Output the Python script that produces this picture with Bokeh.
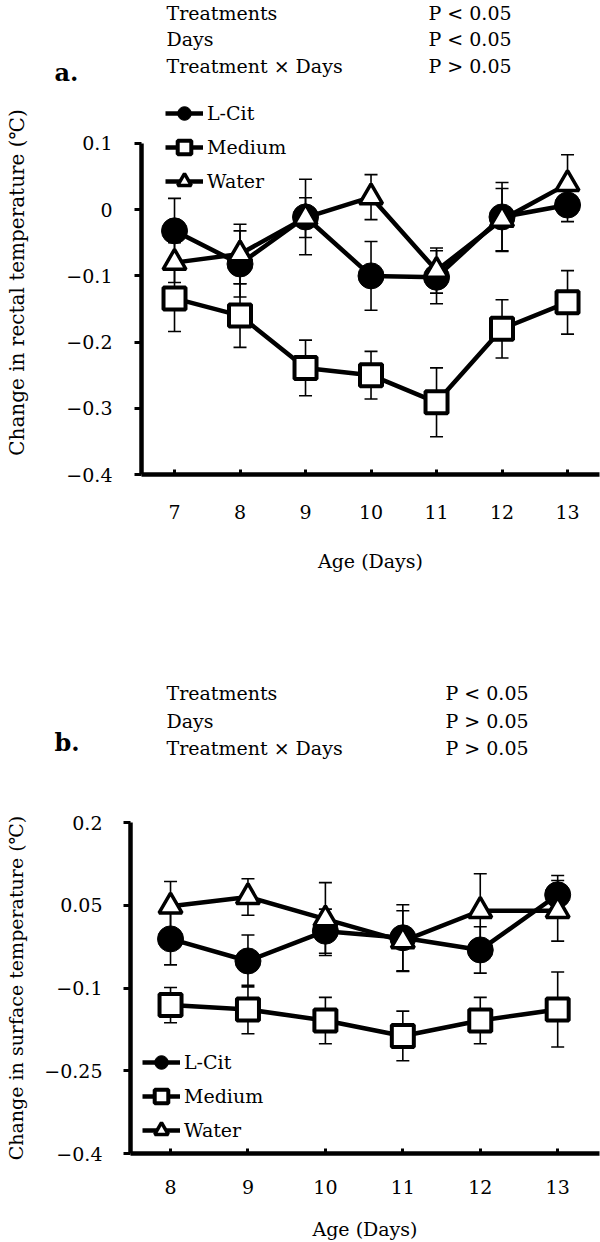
from bokeh.plotting import figure
from bokeh.models import (ColumnDataSource, Whisker, TeeHead, FixedTicker, CustomJSTickFormatter,
                          Legend, LegendItem, Label, Range1d)
from bokeh.layouts import column
from bokeh.embed import file_html
from bokeh.resources import INLINE

FONT = "DejaVu Serif"

# ---------------- data: panel a (rectal temperature) ----------------
days_a = [7, 8, 9, 10, 11, 12, 13]
lcit_a = [-0.032, -0.082, -0.011, -0.100, -0.102, -0.011, 0.007]
lcit_a_err = [0.049, 0.050, 0.057, 0.052, 0.040, 0.052, 0.025]
medium_a = [-0.134, -0.160, -0.239, -0.250, -0.291, -0.180, -0.140]
medium_a_err = [0.050, 0.048, 0.042, 0.036, 0.052, 0.044, 0.048]
water_a = [-0.080, -0.067, -0.012, 0.019, -0.092, -0.015, 0.039]
water_a_err = [0.030, 0.045, 0.030, 0.034, 0.034, 0.047, 0.044]
yticks_a = [-0.4, -0.3, -0.2, -0.1, 0, 0.1]
stats_a = ["P < 0.05", "P < 0.05", "P > 0.05"]

# ---------------- data: panel b (surface temperature) ----------------
days_b = [8, 9, 10, 11, 12, 13]
lcit_b = [-0.011, -0.051, 0.003, -0.009, -0.031, 0.069]
lcit_b_err = [0.047, 0.047, 0.040, 0.060, 0.042, 0.035]
medium_b = [-0.131, -0.139, -0.159, -0.187, -0.159, -0.139]
medium_b_err = [0.032, 0.044, 0.042, 0.045, 0.042, 0.068]
water_b = [0.048, 0.065, 0.025, -0.015, 0.040, 0.040]
water_b_err = [0.045, 0.033, 0.066, 0.055, 0.067, 0.055]
yticks_b = [-0.4, -0.25, -0.1, 0.05, 0.2]
stats_b = ["P < 0.05", "P > 0.05", "P > 0.05"]

effects = ["Treatments", "Days", "Treatment \u00d7 Days"]
series_names = ["L-Cit", "Medium", "Water"]

minus_fmt = "return tick < 0 ? '\\u2212' + (-tick) : '' + tick;"
W = 600


def make_header(height, stats, letter, stat_x, stat_y, letter_pos):
    h = figure(width=W, height=height, x_range=Range1d(0, W), y_range=Range1d(height, 0),
               output_backend="svg", toolbar_location=None,
               x_axis_type=None, y_axis_type=None, frame_align=False,
               min_border_left=0, min_border_right=0, min_border_top=0, min_border_bottom=0)
    h.outline_line_color = None
    h.grid.visible = False
    for name, pv, yy in zip(effects, stats, stat_y):
        h.add_layout(Label(x=stat_x[0], y=yy, text=name, text_font=FONT,
                           text_font_size="19px", text_baseline="middle", text_color="black"))
        h.add_layout(Label(x=stat_x[1], y=yy, text=pv, text_font=FONT,
                           text_font_size="19px", text_baseline="middle", text_color="black"))
    h.add_layout(Label(x=letter_pos[0], y=letter_pos[1], text=letter, text_font=FONT,
                       text_font_size="24px", text_font_style="bold",
                       text_baseline="middle", text_color="black"))
    return h


def make_panel(days, lcit, lcit_err, medium, medium_err, water, water_err,
               yticks, ylabel, ylabel_size, height, xr, yr, ybounds, borders, legend_loc,
               y_standoff, y_label_standoff, x_standoff, x_label_standoff):
    bl, bt, bb = borders
    p = figure(width=W, height=height, x_range=Range1d(*xr), y_range=Range1d(*yr),
               output_backend="svg", toolbar_location=None, frame_align=False,
               min_border_left=bl, min_border_right=1, min_border_top=bt, min_border_bottom=bb)
    p.outline_line_color = None
    p.grid.visible = False
    p.background_fill_color = "white"
    p.border_fill_color = "white"

    # x axis
    xa = p.xaxis[0]
    xa.ticker = FixedTicker(ticks=days)
    xa.axis_line_width = 4.5
    xa.axis_line_color = "black"
    xa.major_tick_in = 5
    xa.major_tick_out = 0
    xa.major_tick_line_width = 3
    xa.minor_tick_line_color = None
    xa.major_label_standoff = x_standoff
    xa.major_label_text_font = FONT
    xa.major_label_text_font_size = "19px"
    xa.major_label_text_color = "black"
    xa.axis_label = "Age (Days)"
    xa.axis_label_standoff = x_label_standoff
    xa.axis_label_text_font = FONT
    xa.axis_label_text_font_size = "19px"
    xa.axis_label_text_font_style = "normal"
    xa.axis_label_text_color = "black"

    # y axis
    ya = p.yaxis[0]
    ya.ticker = FixedTicker(ticks=yticks)
    ya.bounds = ybounds
    ya.formatter = CustomJSTickFormatter(code=minus_fmt)
    ya.axis_line_width = 4.5
    ya.axis_line_color = "black"
    ya.major_tick_in = 0
    ya.major_tick_out = 7
    ya.major_tick_line_width = 3
    ya.minor_tick_line_color = None
    ya.major_label_standoff = y_standoff
    ya.major_label_text_font = FONT
    ya.major_label_text_font_size = "19px"
    ya.major_label_text_color = "black"
    ya.axis_label = ylabel
    ya.axis_label_standoff = y_label_standoff
    ya.axis_label_text_font = FONT
    ya.axis_label_text_font_size = ylabel_size
    ya.axis_label_text_font_style = "normal"
    ya.axis_label_text_color = "black"

    # error bars
    for vals, errs in ((medium, medium_err), (lcit, lcit_err), (water, water_err)):
        src = ColumnDataSource(dict(x=days,
                                    upper=[v + e for v, e in zip(vals, errs)],
                                    lower=[v - e for v, e in zip(vals, errs)]))
        p.add_layout(Whisker(base="x", upper="upper", lower="lower", source=src,
                             line_color="black", line_width=1.6,
                             upper_head=TeeHead(size=13, line_width=1.6, line_color="black"),
                             lower_head=TeeHead(size=13, line_width=1.6, line_color="black")))

    # series
    lm = p.line(days, medium, line_width=4.5, line_color="black", line_join="round")
    sm = p.scatter(days, medium, marker="square", size=22, fill_color="white",
                   line_color="black", line_width=4)
    lc = p.line(days, lcit, line_width=4.5, line_color="black", line_join="round")
    sc = p.scatter(days, lcit, marker="circle", size=26, fill_color="black",
                   line_color="black", line_width=1)
    lw = p.line(days, water, line_width=4.5, line_color="black", line_join="round")
    sw = p.scatter(days, water, marker="triangle", size=23, fill_color="white",
                   line_color="black", line_width=3.5)

    legend = Legend(items=[LegendItem(label=series_names[0], renderers=[lc, sc]),
                           LegendItem(label=series_names[1], renderers=[lm, sm]),
                           LegendItem(label=series_names[2], renderers=[lw, sw])],
                    location=legend_loc, glyph_width=38, glyph_height=34, spacing=0,
                    padding=0, margin=0, label_standoff=4,
                    label_text_font=FONT, label_text_font_size="19px",
                    label_text_color="black",
                    border_line_color=None, background_fill_alpha=0)
    p.add_layout(legend)
    return p


# ----- panel a: header 0..90, plot 90..590 (frame 141..599 x 90..474) -----
ha = make_header(90, stats_a, "a.", stat_x=(166, 428), stat_y=(12, 38, 65), letter_pos=(54, 72))
pa = make_panel(days_a, lcit_a, lcit_a_err, medium_a, medium_a_err, water_a, water_a_err,
                yticks_a, "Change in rectal temperature (\u2103)", "20px", 500,
                (6.496, 13.488), (-0.4, 0.18), (-0.4, 0.1), (141, 0, 116),
                legend_loc=(24, 276),
                y_standoff=22, y_label_standoff=34, x_standoff=30, x_label_standoff=28)

# ----- panel b: header 590..810, plot 810..1242 (frame 130..599 x 822..1153) -----
hb = make_header(220, stats_b, "b.", stat_x=(166, 445), stat_y=(102, 130, 157), letter_pos=(54, 152))
pb = make_panel(days_b, lcit_b, lcit_b_err, medium_b, medium_b_err, water_b, water_b_err,
                yticks_b, "Change in surface temperature (\u2103)", "19px", 432,
                (7.483, 13.54), (-0.4, 0.2), (-0.4, 0.2), (130, 12, 89),
                legend_loc=(12, 6),
                y_standoff=21, y_label_standoff=14, x_standoff=26, x_label_standoff=21)

layout = column(ha, pa, hb, pb, spacing=0)
open("out.html", "w").write(file_html(layout, INLINE))
